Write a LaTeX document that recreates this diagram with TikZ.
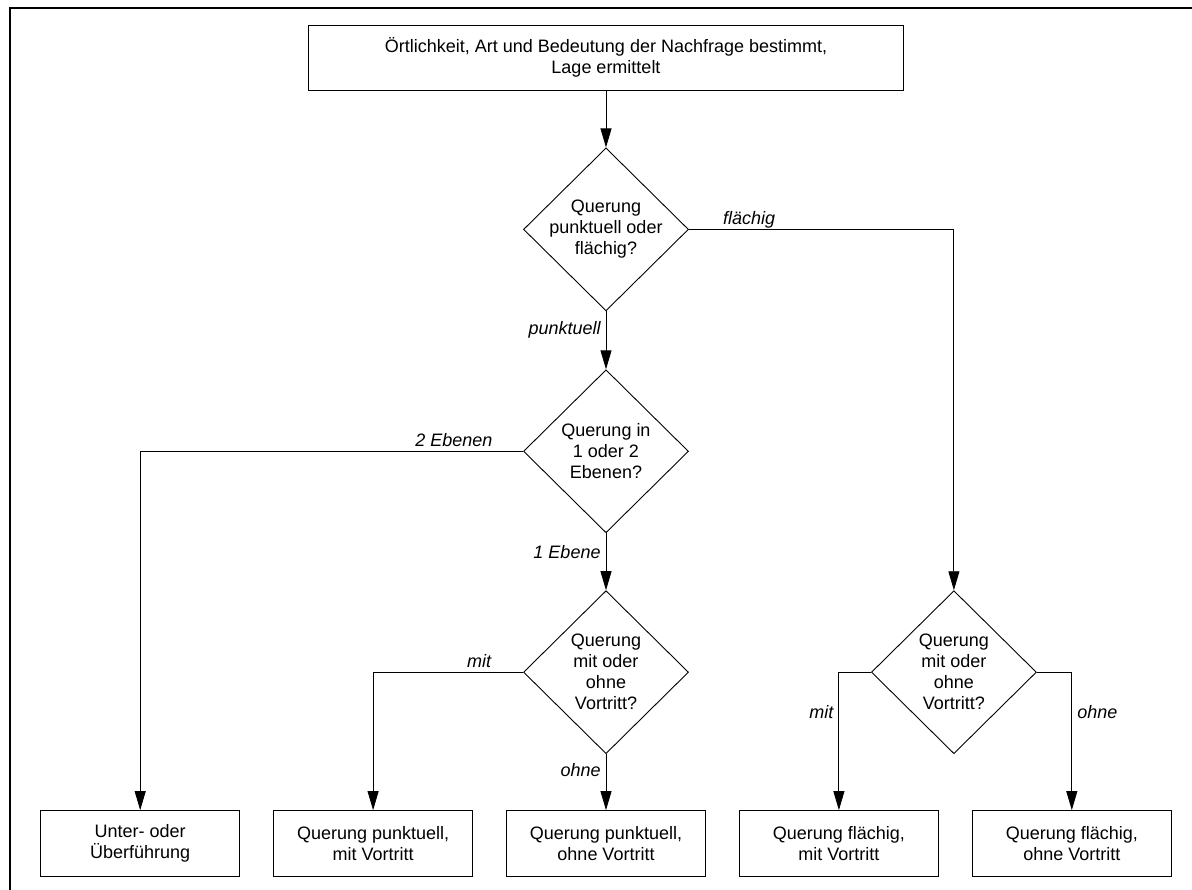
\documentclass[tikz,border=0pt]{standalone}
\usepackage{fontspec}
\setmainfont{Liberation Sans}
\usepackage{tikz}
\usetikzlibrary{positioning,arrows.meta,shapes.geometric}

\newcommand{\figfont}{\fontsize{18}{21}\selectfont}

\begin{document}
\begin{tikzpicture}[
      x=1pt, y=-1pt,
      line width=0.9pt,
      font=\figfont,
      box/.style={draw, align=center, inner sep=3pt},
      endbox/.style={box, minimum width=199pt, minimum height=66pt},
      ask/.style={draw, diamond, align=center, inner sep=-4pt, minimum width=165pt, minimum height=163pt},
      lbl/.style={font=\figfont\itshape, inner xsep=5pt, inner ysep=4pt, text depth=0pt},
      arr/.style={-{Triangle[length=19pt, width=11pt]}}
    ]
    \useasboundingbox (0,0) rectangle (1192,890);
    % frame
    \draw[line width=2.5pt] (1192,8) -- (10,8) -- (10,890);
    % start
    \node[box, minimum width=595pt, minimum height=65pt] (head) at (606,57.5)
      {Örtlichkeit, Art und Bedeutung der Nachfrage bestimmt,\\Lage ermittelt};
    % decisions
    \node[ask, below=57pt of head] (art) {Querung\\punktuell oder\\flächig?};
    \node[ask, below=58pt of art] (ebenen) {Querung in\\1 oder 2\\Ebenen?};
    \node[ask, below=57pt of ebenen] (vortrittP) {Querung\\mit oder\\ohne\\Vortritt?};
    \node[ask, right=182pt of vortrittP] (vortrittF) {Querung\\mit oder\\ohne\\Vortritt?};
    % results
    \node[endbox, below=56pt of vortrittP] (punktOhne) {Querung punktuell,\\ohne Vortritt};
    \node[endbox, left=33pt of punktOhne] (punktMit) {Querung punktuell,\\mit Vortritt};
    \node[endbox, left=33pt of punktMit] (unter) {Unter- oder\\Überführung};
    \node[endbox, right=33pt of punktOhne] (flaechMit) {Querung flächig,\\mit Vortritt};
    \node[endbox, right=33pt of flaechMit] (flaechOhne) {Querung flächig,\\ohne Vortritt};
    % edges
    \draw[arr] (head) -- (art);
    \draw[arr] (art) -- node[lbl, left, pos=0.28] (lPunkt) {punktuell} (ebenen);
    \draw[arr] (art.east) -| node[lbl, above right, pos=0.054] (lFlaech) {flächig} (vortrittF.north);
    \draw[arr] (ebenen) -- node[lbl, left, pos=0.32] (lEins) {1 Ebene} (vortrittP);
    \draw[arr] (ebenen.west) -| node[lbl, above left, pos=0.033] (lZwei) {2 Ebenen} (unter.north);
    \draw[arr] (vortrittP.west) -| node[lbl, above left, pos=0.088] (lMitP) {mit} (punktMit.north);
    \draw[arr] (vortrittP) -- node[lbl, left, pos=0.28] (lOhneP) {ohne} (punktOhne);
    \draw[arr] (vortrittF.west) -| node[lbl, left, pos=0.643] (lMitF) {mit} (flaechMit.north);
    \draw[arr] (vortrittF.east) -| node[lbl, right, pos=0.643] (lOhneF) {ohne} (flaechOhne.north);
  \end{tikzpicture}
\end{document}
